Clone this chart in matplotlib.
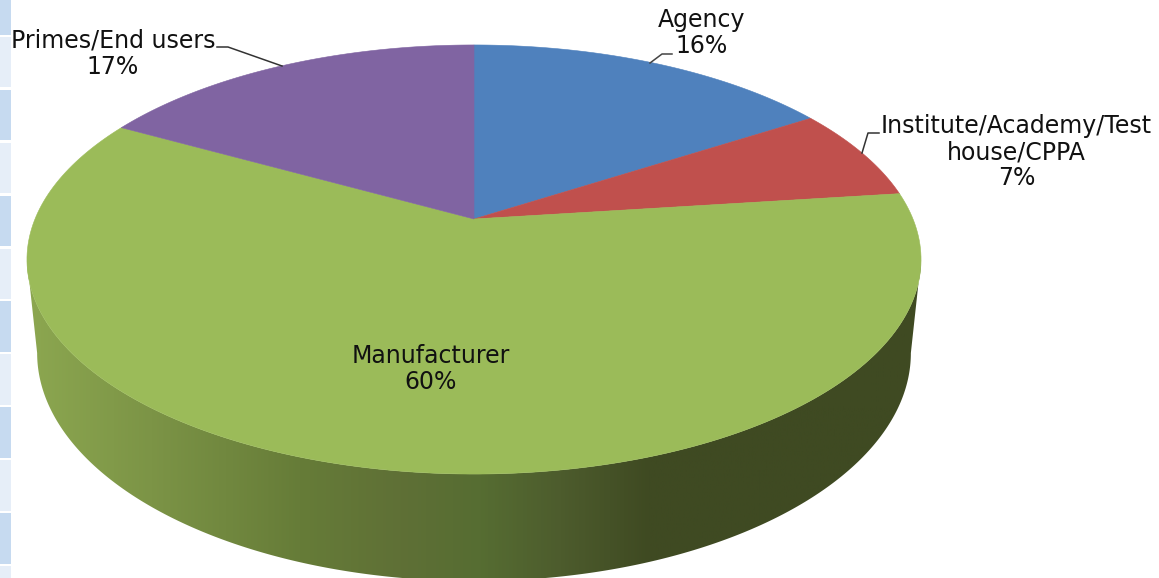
import numpy as np
import matplotlib
matplotlib.use("Agg")
import matplotlib.pyplot as plt
from matplotlib.colors import LinearSegmentedColormap
from matplotlib.patches import Polygon, Rectangle

categories = ["Agency", "Institute/Academy/Test\nhouse/CPPA", "Manufacturer", "Primes/End users"]
shares = [16, 7, 60, 17]
colors = ["#4F81BD", "#C0504D", "#9BBB59", "#8064A2"]

W, H = 1159, 578
K = 0.1888
fig = plt.figure(figsize=(W / 100, H / 100), dpi=100)
ax = fig.add_axes([0, 0, 1, 1])
ax.set_xlim(0, W)
ax.set_ylim(H, 0)
ax.axis("off")

plt.rcParams["font.family"] = "DejaVu Sans"


def project(theta, cy=219.0, a=439.0, b=206.9):
    """Perspective view of the unit circle; theta runs clockwise from 12 o'clock."""
    u, v = np.sin(theta), np.cos(theta)
    d = 1 + K * v
    return 474 + a * u / d, cy - b * v / d


# sidebar cells at the left edge
for i, top in enumerate(np.arange(-16, H, 52.9)):
    ax.add_patch(Rectangle((0, top), 10.5, 50.5, fc="#C6DAF0" if i % 2 == 0 else "#E6EEF8", ec="none"))

# cylinder wall: from the widest points of the top face down to the lower rim
t0 = np.arccos(-K)
t = np.linspace(t0, 2 * np.pi - t0, 400)
x_top, y_top = project(t)
x_low, y_low = project(t[::-1], cy=310.0, a=429.0, b=219.9)
wall = Polygon(np.r_[np.c_[x_top, y_top], np.c_[x_low, y_low]], closed=True, fc="none", ec="none")
ax.add_patch(wall)

# horizontal shading of the wall, expressed along its x extent
x0, x1 = 27, 921
shade_x = [27, 150, 300, 400, 480, 560, 650, 921]
shade_c = ["#8CA750", "#7C9446", "#667C38", "#5F7036", "#566D32", "#4D5C2D", "#3F4A22", "#3F4A22"]
wall_cmap = LinearSegmentedColormap.from_list(
    "wall", [((x - x0) / (x1 - x0), c) for x, c in zip(shade_x, shade_c)]
)
grad = ax.imshow(np.linspace(0, 1, 512)[None, :], cmap=wall_cmap, extent=(x0, x1, H, 240), aspect="auto", zorder=1)
grad.set_clip_path(wall)
ax.set_xlim(0, W)
ax.set_ylim(H, 0)

# top face slices, clockwise from 12 o'clock
edges = np.r_[0, np.cumsum(shares)] / sum(shares) * 2 * np.pi
for start, stop, c in zip(edges[:-1], edges[1:], colors):
    th = np.linspace(start, stop, 200)
    px, py = project(th)
    ax.add_patch(Polygon(np.r_[[[474, 219]], np.c_[px, py]], closed=True, fc=c, ec=c, lw=0.4, zorder=2))

# data labels and their leader lines
label_xy = [(702, 33), (1016.5, 152), (430.5, 369), (113, 54)]
for name, share, (lx, ly) in zip(categories, shares, label_xy):
    ax.text(lx, ly, f"{name}\n{share}%", ha="center", va="center", fontsize=17, color="#111111",
            linespacing=1.13, zorder=4)
ax.plot([650, 662, 672], [63, 54, 54], color="#444444", lw=1.1, zorder=3)
ax.plot([862, 868, 879], [153, 133, 133], color="#333333", lw=1.1, zorder=3)
ax.plot([217, 228, 282], [47, 47, 66], color="#333333", lw=1.1, zorder=3)

fig.savefig("out.png", dpi=100, facecolor="white")
